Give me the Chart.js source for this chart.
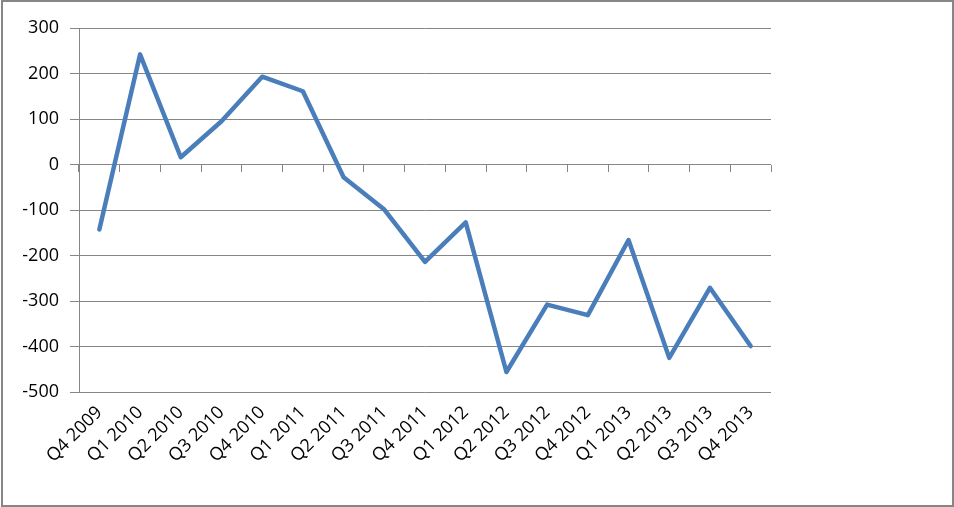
<!DOCTYPE html>
<html>
<head>
<meta charset="utf-8">
<script src="https://cdn.jsdelivr.net/npm/chart.js@4/dist/chart.umd.min.js"></script>
<style>
  html, body { margin: 0; padding: 0; background: #fff; }
  #wrap { position: relative; width: 954px; height: 507px; overflow: hidden; }
  #frame { position: absolute; left: 1px; top: 0; width: 953px; height: 507px; box-sizing: border-box; border: 2px solid #868686; pointer-events: none; }
  canvas { position: absolute; left: 0; top: 0; }
</style>
</head>
<body>
<div id="wrap">
  <canvas id="c" width="954" height="507"></canvas>
  <div id="frame"></div>
</div>
<script>
const categories = ["Q4 2009","Q1 2010","Q2 2010","Q3 2010","Q4 2010","Q1 2011","Q2 2011","Q3 2011","Q4 2011","Q1 2012","Q2 2012","Q3 2012","Q4 2012","Q1 2013","Q2 2013","Q3 2013","Q4 2013"];
const values = [-143, 242, 16, 95, 193, 161, -28, -99, -214, -127, -456, -308, -331, -166, -425, -271, -399];
const yTicks = { min: -500, max: 300, step: 100 };

const FONT = { family: "'Open Sans', sans-serif", size: 18 };
const GRID = '#868686';

new Chart(document.getElementById('c'), {
  type: 'line',
  data: {
    labels: categories,
    datasets: [{
      data: values,
      borderColor: '#4a7ebb',
      backgroundColor: '#4a7ebb',
      borderWidth: 4.5,
      borderJoinStyle: 'round',
      borderCapStyle: 'round',
      pointRadius: 0,
      tension: 0,
      fill: false,
      xAxisID: 'x',
      yAxisID: 'y'
    }]
  },
  options: {
    responsive: false,
    animation: false,
    devicePixelRatio: 1,
    layout: { padding: { left: 0, right: 183, top: 28, bottom: 0 } },
    plugins: { legend: { display: false }, tooltip: { enabled: false }, title: { display: false } },
    scales: {
      x: {
        type: 'category',
        position: 'bottom',
        offset: true,
        grid: { display: false },
        border: { display: false },
        ticks: {
          color: '#000',
          font: FONT,
          minRotation: 45,
          maxRotation: 45,
          autoSkip: false,
          padding: 2
        },
        afterFit: (s) => { s.height = 115; }
      },
      x2: {
        type: 'category',
        labels: categories,
        position: { y: 0 },
        offset: true,
        grid: { display: true, offset: true, drawOnChartArea: false, drawTicks: true, tickLength: 7, color: GRID, lineWidth: 1 },
        border: { display: false },
        ticks: { display: false }
      },
      y: {
        type: 'linear',
        position: 'left',
        min: yTicks.min,
        max: yTicks.max,
        ticks: { stepSize: yTicks.step, color: '#000', font: FONT, padding: 11 },
        grid: { color: GRID, lineWidth: 1, drawTicks: true, tickLength: 9 },
        border: { display: true, color: GRID, width: 1 },
        afterFit: (s) => { s.width = 79; }
      }
    }
  }
});
</script>
</body>
</html>
